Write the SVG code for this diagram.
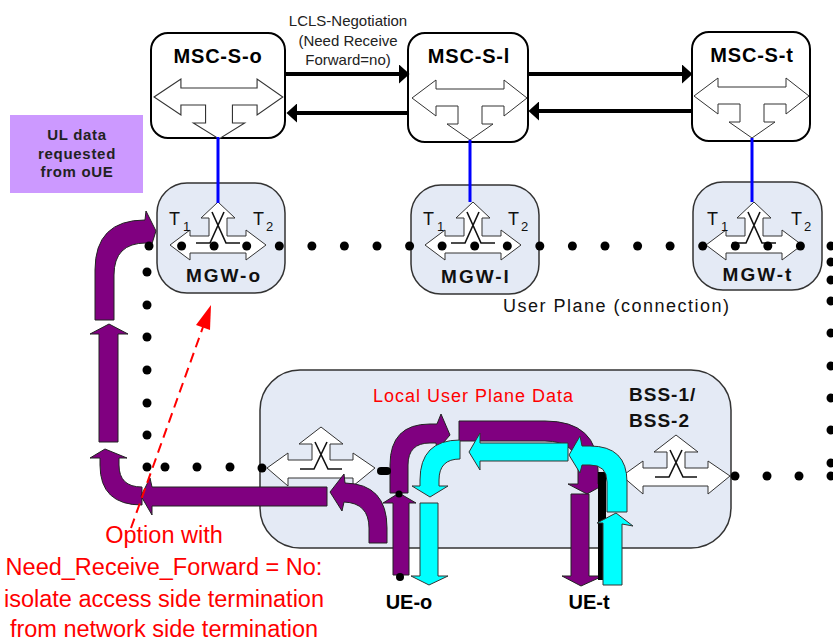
<svg xmlns="http://www.w3.org/2000/svg" width="833" height="641" viewBox="0 0 833 641">
<style>
text{font-family:"Liberation Sans",Arial,sans-serif}
.msc{fill:#fff;stroke:#000;stroke-width:2}
.mgw{fill:#e4eaf5;stroke:#333;stroke-width:1.5}
.sw{fill:#fff;stroke:#333;stroke-width:1}
.x{fill:none;stroke:#111;stroke-width:1.6}
.title{font-weight:bold;font-size:20px;letter-spacing:0.8px;text-anchor:middle;fill:#000}
.gw{font-weight:bold;font-size:19px;letter-spacing:2px;text-anchor:middle;fill:#111}
.t{font-size:18px;fill:#111}
.sub{font-size:13px;fill:#111}
.pu{fill:#800080;stroke:#222;stroke-width:1}
.cy{fill:#00ffff;stroke:#333;stroke-width:1}
.dot{fill:#000}
.sig{stroke:#000;stroke-width:4;fill:none;marker-end:url(#ah)}
.blue{stroke:#0000ff;stroke-width:3}
.red{font-size:23.5px;fill:#ff0000;text-anchor:middle}
</style>
<defs>
<marker id="ah" markerUnits="userSpaceOnUse" markerWidth="11" markerHeight="19" viewBox="0 0 10 18" refX="0" refY="9" orient="auto"><path d="M0,0 L10,9 L0,18 Z" fill="#000"/></marker>
<polygon id="swd" points="-58,0 -34,-18 -34,-9 34,-9 34,-18 57,0 34,18 34,8 12,8 12,26 23,26 0,42 -23,26 -12,26 -12,8 -34,8 -34,18"/>
<polygon id="swu" points="-48,0 -28,-15 -28,-9 -9,-9 -9,-27 -17,-27 0,-43 17,-27 9,-27 9,-9 28,-9 28,-15 48,0 28,15 28,8 -28,8 -28,15"/>
<path id="xu" d="M-22,-2 L-8,-2 L6,-33 M22,-2 L8,-2 L-6,-33"/>
<polygon id="swb" points="-54,0 -33,-15 -33,-8 -9,-8 -9,-24 -22,-24 0,-41 22,-24 9,-24 9,-8 32,-8 32,-15 54,0 32,18 32,10 -33,10 -33,18"/>
<path id="xb" d="M-21,1 L-7,1 L6,-26 M21,1 L7,1 L-6,-26"/>
</defs>

<g id="ul-box">
<rect x="10" y="115" width="133" height="78" fill="#cc99ff"/>
<text x="77" y="140" font-size="15" font-weight="bold" letter-spacing="0.7" text-anchor="middle" fill="#222">UL data</text>
<text x="77" y="158.5" font-size="15" font-weight="bold" letter-spacing="0.7" text-anchor="middle" fill="#222">requested</text>
<text x="77" y="177" font-size="15" font-weight="bold" letter-spacing="0.7" text-anchor="middle" fill="#222">from oUE</text>
</g>

<g id="msc-s-o">
<rect class="msc" x="151" y="33" width="134" height="105" rx="17"/>
<use href="#swd" class="sw" transform="translate(219,97) scale(1.12,1)"/>
<text class="title" x="218" y="63">MSC-S-o</text>
</g>
<g id="msc-s-l">
<rect class="msc" x="408" y="33" width="120" height="109" rx="17"/>
<use href="#swd" class="sw" transform="translate(470,98)"/>
<text class="title" x="469" y="63">MSC-S-l</text>
</g>
<g id="msc-s-t">
<rect class="msc" x="692" y="32" width="118" height="109" rx="17"/>
<use href="#swd" class="sw" transform="translate(752,96)"/>
<text class="title" x="752" y="62">MSC-S-t</text>
</g>

<g id="mgw-o">
<rect class="mgw" x="157" y="183" width="128" height="110" rx="30"/>
<use href="#swu" class="sw" transform="translate(218,245)"/>
<use href="#xu" class="x" transform="translate(218,245)"/>
<text class="t" x="169" y="225">T</text><text class="sub" x="183" y="231">1</text>
<text class="t" x="253" y="225">T</text><text class="sub" x="266" y="231">2</text>
<text class="gw" x="224" y="282">MGW-o</text>
</g>
<g id="mgw-l">
<rect class="mgw" x="411" y="185" width="128" height="109" rx="30"/>
<use href="#swu" class="sw" transform="translate(473,245)"/>
<use href="#xu" class="x" transform="translate(473,245)"/>
<text class="t" x="423" y="225">T</text><text class="sub" x="437" y="231">1</text>
<text class="t" x="508" y="225">T</text><text class="sub" x="521" y="231">2</text>
<text class="gw" x="476" y="283">MGW-l</text>
</g>
<g id="mgw-t">
<rect class="mgw" x="693" y="182" width="129" height="108" rx="30"/>
<use href="#swu" class="sw" transform="translate(754,245)"/>
<use href="#xu" class="x" transform="translate(754,245)"/>
<text class="t" x="707" y="225">T</text><text class="sub" x="721" y="231">1</text>
<text class="t" x="791" y="225">T</text><text class="sub" x="804" y="231">2</text>
<text class="gw" x="758" y="281">MGW-t</text>
</g>

<g id="bss">
<rect class="mgw" x="260" y="370" width="471" height="178" rx="40"/>
<use href="#swb" class="sw" transform="translate(321,468)"/>
<use href="#xb" class="x" transform="translate(321,468)"/>
<use href="#swb" class="sw" transform="translate(676,476)"/>
<use href="#xb" class="x" transform="translate(676,476)"/>
<text x="629" y="401" font-size="19" font-weight="bold" letter-spacing="1" fill="#111">BSS-1/</text>
<text x="629" y="427" font-size="19" font-weight="bold" letter-spacing="1" fill="#111">BSS-2</text>
<text x="373" y="402" font-size="18" letter-spacing="1" fill="#ff0000">Local User Plane Data</text>
</g>

<g id="flows">
<path class="pu" d="M95,320 L95,270 Q95,220 145,220 L146,211 L156,231 L150,250 L146,243 Q114,243 114,275 L114,320 Z"/>
<path class="pu" d="M99,442 L99,334 L90,334 L109,324 L128,334 L118,334 L118,442 Z"/>
<path class="pu" d="M142,505 Q100,505 100,465 L100,458 L90,458 L105,449 L127,458 L119,458 L119,465 Q119,487 142,487 Z"/>
<path class="pu" d="M327,487 L152,487 L150,478 L141,496 L152,515 L152,506 L327,506 Z"/>
<path class="pu" d="M387,543 L387,528 Q387,484 345,483 L344,474 L330,492 L342,511 L344,502 Q369,503 369,528 L369,543 Z"/>
<path class="pu" d="M390,493 L390,465 Q390,424 430,424 L437,424 L441,414 L450,435 L437,450 L436,443 L430,443 Q408,443 408,465 L408,493 Z"/>
<path class="pu" d="M459,421 L545,421 Q598,421 598,470 L598,484 L605,484 L587,494 L568,484 L578,484 L578,470 Q578,441 545,441 L459,441 Z"/>
<path class="pu" d="M571,494 L589,494 L589,576 L603,576 L581,586 L562,576 L571,576 Z"/>
<path class="pu" d="M393,575 L393,503 L383,503 L399,493 L416,503 L409,503 L409,575 Z"/>
<rect x="377" y="467" width="14" height="8" rx="4" fill="#000"/>
<circle cx="399" cy="494" r="3.5" fill="#000"/>
<circle cx="400" cy="577" r="4" fill="#000"/>
<rect x="598" y="472" width="8" height="108" fill="#000"/>
<path class="cy" d="M568,443 L480,443 L480,433 L469,452 L480,470 L480,461 L568,461 Z"/>
<path class="cy" d="M460,440 Q420,440 420,480 L420,486 L412,486 L430,497 L448,486 L439,486 L439,480 Q439,459 460,459 Z"/>
<path class="cy" d="M420,503 L438,503 L438,576 L448,576 L429,585 L411,576 L420,576 Z"/>
<path class="cy" d="M627,512 L627,482 Q627,446 590,446 L582,446 L580,436 L569,455 L580,473 L582,465 L590,465 Q607,465 607,482 L607,512 Z"/>
<path class="cy" d="M603,585 L603,523 L597,523 L616,513 L633,526 L622,524 L622,585 Z"/>
</g>

<g id="connectors">
<line class="sig" x1="285" y1="74" x2="399" y2="74"/>
<line class="sig" x1="408" y1="113" x2="297" y2="113"/>
<line class="sig" x1="528" y1="74" x2="682" y2="74"/>
<line class="sig" x1="692" y1="111" x2="539" y2="111"/>
<line class="blue" x1="218" y1="137" x2="218" y2="203"/>
<line class="blue" x1="470" y1="140" x2="470" y2="202"/>
<line class="blue" x1="752" y1="138" x2="752" y2="202"/>
<g class="dot">
<circle cx="149" cy="246" r="4.5"/><circle cx="181.6" cy="246" r="4.5"/><circle cx="214.1" cy="246" r="4.5"/><circle cx="246.7" cy="246" r="4.5"/><circle cx="279.3" cy="246" r="4.5"/><circle cx="311.9" cy="246" r="4.5"/><circle cx="344.4" cy="246" r="4.5"/><circle cx="377" cy="246" r="4.5"/><circle cx="409.6" cy="246" r="4.5"/><circle cx="442.1" cy="246" r="4.5"/><circle cx="474.7" cy="246" r="4.5"/><circle cx="507.3" cy="246" r="4.5"/><circle cx="539.8" cy="246" r="4.5"/><circle cx="572.4" cy="246" r="4.5"/><circle cx="605" cy="246" r="4.5"/><circle cx="637.6" cy="246" r="4.5"/><circle cx="670.1" cy="246" r="4.5"/><circle cx="702.7" cy="246" r="4.5"/><circle cx="735.3" cy="246" r="4.5"/><circle cx="767.8" cy="246" r="4.5"/><circle cx="800.4" cy="246" r="4.5"/><circle cx="831" cy="246" r="4.5"/>
<circle cx="831" cy="262" r="4.5"/><circle cx="831" cy="280" r="4.5"/><circle cx="831" cy="301" r="4.5"/><circle cx="831" cy="333" r="4.5"/><circle cx="831" cy="366" r="4.5"/><circle cx="831" cy="398" r="4.5"/><circle cx="831" cy="430" r="4.5"/><circle cx="831" cy="463" r="4.5"/><circle cx="831" cy="476" r="4.5"/>
<circle cx="735" cy="476" r="4.5"/><circle cx="767" cy="476" r="4.5"/><circle cx="799" cy="476" r="4.5"/>
<circle cx="147" cy="272" r="4.5"/><circle cx="147" cy="305" r="4.5"/><circle cx="147" cy="337" r="4.5"/><circle cx="147" cy="370" r="4.5"/><circle cx="147" cy="403" r="4.5"/><circle cx="147" cy="435" r="4.5"/><circle cx="147" cy="467" r="4.5"/>
<circle cx="165" cy="467" r="4.5"/><circle cx="197" cy="467" r="4.5"/><circle cx="230" cy="467" r="4.5"/><circle cx="262" cy="468" r="4.5"/>
</g>
<line x1="131" y1="528" x2="203" y2="327" stroke="#ff0000" stroke-width="2" stroke-dasharray="10,6"/>
<polygon points="211,305 210,330 196,325" fill="#ff0000"/>
</g>

<g id="labels">
<text x="348" y="26" font-size="15" text-anchor="middle" fill="#222">LCLS-Negotiation</text>
<text x="348" y="45.5" font-size="15" text-anchor="middle" fill="#222">(Need Receive</text>
<text x="348" y="65" font-size="15" text-anchor="middle" fill="#222">Forward=no)</text>
<text x="503" y="312" font-size="18" letter-spacing="1.5" fill="#111">User Plane (connection)</text>
<text x="409" y="609" font-size="20" font-weight="bold" text-anchor="middle" fill="#000">UE-o</text>
<text x="589" y="609" font-size="20" font-weight="bold" text-anchor="middle" fill="#000">UE-t</text>
<text class="red" x="164" y="543">Option with</text>
<text class="red" x="164" y="575">Need_Receive_Forward = No:</text>
<text class="red" x="164" y="607">isolate access side termination</text>
<text class="red" x="164" y="637">from network side termination</text>
</g>
</svg>
